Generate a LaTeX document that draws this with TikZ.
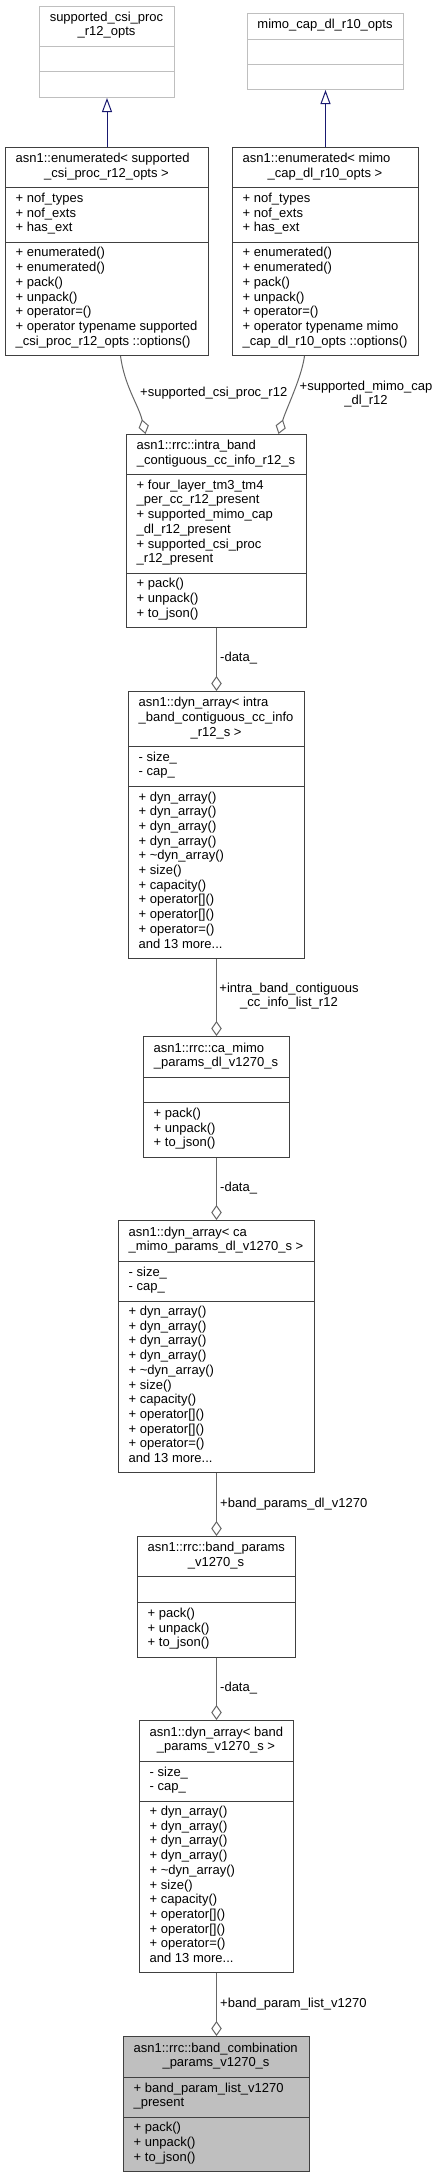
\documentclass[tikz,border=0pt]{standalone}
\usepackage{fontspec}
\setmainfont{Liberation Sans}
\usepackage{tikz}
\usetikzlibrary{arrows.meta}
\definecolor{DoxFrame}{HTML}{404040}
\definecolor{DoxExt}{HTML}{BFBFBF}
\definecolor{DoxEdge}{HTML}{666666}
\definecolor{DoxBlue}{HTML}{191970}
\definecolor{DoxFill}{HTML}{BFBFBF}
\newcommand{\doxfont}{\fontsize{13}{14.7}\selectfont}

\begin{document}
\begin{tikzpicture}[x=1pt,y=-1pt,
  cls/.style={draw=DoxFrame,line width=1pt,fill=white,inner sep=0pt,anchor=north west},
  extcls/.style={cls,draw=DoxExt},
  txt/.style={font=\doxfont,inner sep=0pt,align=left,anchor=west,
    execute at begin node=\strut,execute at end node=\strut},
  txtc/.style={txt,align=center,anchor=center},
  sepln/.style={DoxFrame,line width=1pt},
  aggr/.style={DoxEdge,line width=1pt,-{Diamond[open,length=15pt,width=10.5pt]}},
  inherit/.style={DoxBlue,line width=1pt,-{Triangle[open,length=14pt,width=10pt]}}]
\path[use as bounding box] (0,0) rectangle (439,2177);
% class boxes
\node[extcls,minimum width=135,minimum height=91] (A) at (39,6) {};
\node[extcls,minimum width=156,minimum height=76] (B) at (247,13) {};
\node[cls,minimum width=203,minimum height=208] (C) at (5,147) {};
\node[cls,minimum width=186,minimum height=208] (D) at (232,147) {};
\node[cls,minimum width=180,minimum height=193] (E) at (126,434) {};
\node[cls,minimum width=176,minimum height=267] (F) at (128,691) {};
\node[cls,minimum width=146,minimum height=121] (G) at (143,1036) {};
\node[cls,minimum width=196,minimum height=252] (H) at (118,1220) {};
\node[cls,minimum width=158,minimum height=121] (I) at (137,1536) {};
\node[cls,minimum width=154,minimum height=252] (J) at (139,1720) {};
\node[cls,fill=DoxFill,minimum width=186,minimum height=135] (K) at (123,2036) {};
% compartments
\draw[DoxExt,line width=1pt] (39,46) -- (174,46) (39,71) -- (174,71);
\draw[DoxExt,line width=1pt] (247,39) -- (403,39) (247,64) -- (403,64);
\foreach \xa/\xb/\ya/\yb in {5/208/187/242, 232/418/187/242, 126/306/474/573,
    128/304/746/786, 143/289/1077/1102, 118/314/1261/1301, 137/295/1576/1602,
    139/293/1761/1801, 123/309/2077/2117}
  \draw[sepln] (\xa,\ya) -- (\xb,\ya) (\xa,\yb) -- (\xb,\yb);
% texts
\node[txtc] (At) at (106.5,26) {supported\_csi\_proc\\\_r12\_opts};
\node[txtc] (Bt) at (325,26) {mimo\_cap\_dl\_r10\_opts};

\node[txt] (Ct1) at (15.5,159.65) {asn1::enumerated< supported};
\node[txtc] (Ct2) at (106.5,174.35) {\_csi\_proc\_r12\_opts >};
\node[txt] (Ca) at (15.5,214.5) {+ nof\_types\\+ nof\_exts\\+ has\_ext};
\node[txt] (Cm) at (15.5,298.5) {+ enumerated()\\+ enumerated()\\+ pack()\\+ unpack()\\+ operator=()\\+ operator typename supported\\\_csi\_proc\_r12\_opts ::options()};

\node[txt] (Dt1) at (242.5,159.65) {asn1::enumerated< mimo};
\node[txtc] (Dt2) at (325,174.35) {\_cap\_dl\_r10\_opts >};
\node[txt] (Da) at (242.5,214.5) {+ nof\_types\\+ nof\_exts\\+ has\_ext};
\node[txt] (Dm) at (242.5,298.5) {+ enumerated()\\+ enumerated()\\+ pack()\\+ unpack()\\+ operator=()\\+ operator typename mimo\\\_cap\_dl\_r10\_opts ::options()};

\node[txt] (Et1) at (136.5,446.65) {asn1::rrc::intra\_band};
\node[txtc] (Et2) at (216,461.35) {\_contiguous\_cc\_info\_r12\_s};
\node[txt] (Ea) at (136.5,523.5) {+ four\_layer\_tm3\_tm4\\\_per\_cc\_r12\_present\\+ supported\_mimo\_cap\\\_dl\_r12\_present\\+ supported\_csi\_proc\\\_r12\_present};
\node[txt] (Em) at (136.5,600) {+ pack()\\+ unpack()\\+ to\_json()};

\node[txt] (Ft1) at (138.5,711.15) {asn1::dyn\_array< intra\\\_band\_contiguous\_cc\_info};
\node[txtc] (Ft2) at (216,733.2) {\_r12\_s >};
\node[txt] (Fa) at (138.5,766) {- size\_\\- cap\_};
\node[txt] (Fm) at (138.5,872) {+ dyn\_array()\\+ dyn\_array()\\+ dyn\_array()\\+ dyn\_array()\\+ \textasciitilde dyn\_array()\\+ size()\\+ capacity()\\+ operator[]()\\+ operator[]()\\+ operator=()\\and 13 more...};

\node[txt] (Gt1) at (153.5,1049.15) {asn1::rrc::ca\_mimo};
\node[txtc] (Gt2) at (216,1063.85) {\_params\_dl\_v1270\_s};
\node[txt] (Gm) at (153.5,1129.5) {+ pack()\\+ unpack()\\+ to\_json()};

\node[txt] (Ht1) at (128.5,1233.15) {asn1::dyn\_array< ca};
\node[txtc] (Ht2) at (216,1247.85) {\_mimo\_params\_dl\_v1270\_s >};
\node[txt] (Ha) at (128.5,1281) {- size\_\\- cap\_};
\node[txt] (Hm) at (128.5,1386.5) {+ dyn\_array()\\+ dyn\_array()\\+ dyn\_array()\\+ dyn\_array()\\+ \textasciitilde dyn\_array()\\+ size()\\+ capacity()\\+ operator[]()\\+ operator[]()\\+ operator=()\\and 13 more...};

\node[txt] (It1) at (147.5,1548.65) {asn1::rrc::band\_params};
\node[txtc] (It2) at (216,1563.35) {\_v1270\_s};
\node[txt] (Im) at (147.5,1629.5) {+ pack()\\+ unpack()\\+ to\_json()};

\node[txt] (Jt1) at (149.5,1733.15) {asn1::dyn\_array< band};
\node[txtc] (Jt2) at (216,1747.85) {\_params\_v1270\_s >};
\node[txt] (Ja) at (149.5,1781) {- size\_\\- cap\_};
\node[txt] (Jm) at (149.5,1886.5) {+ dyn\_array()\\+ dyn\_array()\\+ dyn\_array()\\+ dyn\_array()\\+ \textasciitilde dyn\_array()\\+ size()\\+ capacity()\\+ operator[]()\\+ operator[]()\\+ operator=()\\and 13 more...};

\node[txt] (Kt1) at (133.5,2049.15) {asn1::rrc::band\_combination};
\node[txtc] (Kt2) at (216,2063.85) {\_params\_v1270\_s};
\node[txt] (Ka) at (133.5,2097) {+ band\_param\_list\_v1270\\\_present};
\node[txt] (Km) at (133.5,2144) {+ pack()\\+ unpack()\\+ to\_json()};
% connectors
\draw[inherit] (C.north) -- (A.south);
\draw[inherit] (D.north) -- (B.south);
\draw[aggr] ([xshift=13.5pt]C.south) .. controls +(4,30) and +(-7,-29) .. ([xshift=-71pt]E.north);
\draw[aggr] ([xshift=-21pt]D.south) .. controls +(-3,22) and +(8,-26) .. ([xshift=62pt]E.north);
\draw[aggr] (E.south) -- (F.north);
\draw[aggr] (F.south) -- (G.north);
\draw[aggr] (G.south) -- (H.north);
\draw[aggr] (H.south) -- (I.north);
\draw[aggr] (I.south) -- (J.north);
\draw[aggr] (J.south) -- (K.north);
% edge labels
\node[txt] (L1) at (140,394) {+supported\_csi\_proc\_r12};
\node[txtc] (L2) at (366,395) {+supported\_mimo\_cap\\\_dl\_r12};
\node[txt] (L3) at (220,659) {-data\_};
\node[txtc] (L4) at (289,997) {+intra\_band\_contiguous\\\_cc\_info\_list\_r12};
\node[txt] (L5) at (220,1189) {-data\_};
\node[txt] (L6) at (220,1505) {+band\_params\_dl\_v1270};
\node[txt] (L7) at (220,1689) {-data\_};
\node[txt] (L8) at (220,2005) {+band\_param\_list\_v1270};
\end{tikzpicture}
\end{document}
